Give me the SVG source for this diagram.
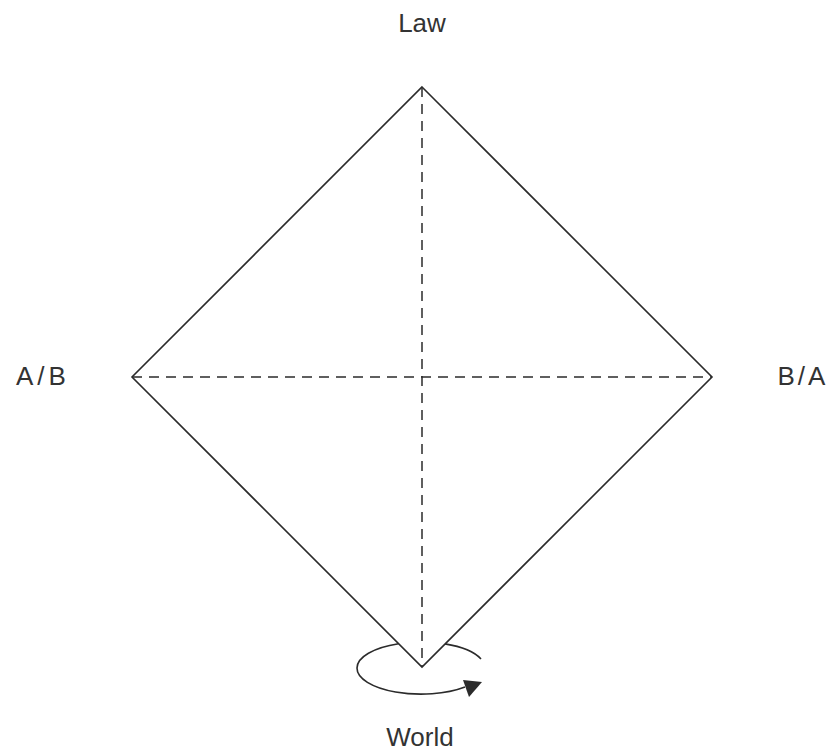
<svg xmlns="http://www.w3.org/2000/svg" width="832" height="755" viewBox="0 0 832 755">
<style>
.ln{fill:none;stroke:#2b2b2b;stroke-width:1.6}
.dash{fill:none;stroke:#2b2b2b;stroke-width:1.5;stroke-dasharray:10 7}
.lbl{font-family:"Liberation Sans",Arial,sans-serif;font-size:26px;fill:#333;text-anchor:middle}
</style>
<rect width="832" height="755" fill="#fff"/>
<g id="connectors">
<polygon class="ln" points="422,87 712,377 422,667 132,377"/>
<line class="dash" x1="422" y1="87" x2="422" y2="667"/>
<line class="dash" x1="132" y1="377" x2="712" y2="377"/>
<path class="ln" d="M481,659 A64,26 0 0 0 445,643.9"/>
<path class="ln" d="M398.5,643.7 A64,26 0 0 0 357,668 A64,26 0 0 0 465,687"/>
<polygon points="482,682 463,680 469,697" fill="#2b2b2b"/>
</g>
<g id="law"><text class="lbl" x="422" y="32">Law</text></g>
<g id="ab"><text class="lbl" x="43" y="385" style="letter-spacing:4px">A/B</text></g>
<g id="ba"><text class="lbl" x="803" y="385" style="letter-spacing:3px">B/A</text></g>
<g id="world"><text class="lbl" x="420" y="746">World</text></g>
</svg>
